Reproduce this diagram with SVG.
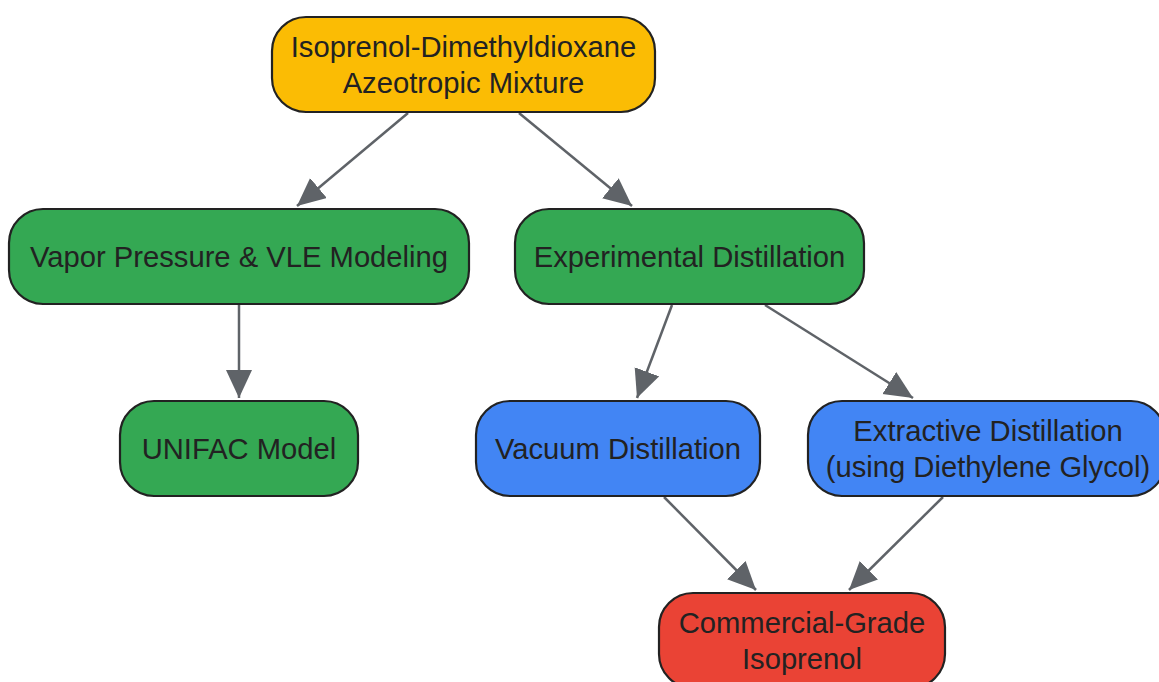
<svg xmlns="http://www.w3.org/2000/svg" width="1159" height="682" viewBox="0 0 1159 682">
<style>
.n rect{stroke:#222;stroke-width:2.2}
.n text{font-family:"Liberation Sans",Arial,sans-serif;font-size:29.2px;fill:#222;text-anchor:middle;dominant-baseline:central}
.e line{stroke:#5f6368;stroke-width:2.5;fill:none}
</style>
<defs>
<marker id="ah" markerUnits="userSpaceOnUse" markerWidth="30" markerHeight="28" refX="28" refY="13" orient="auto">
<path d="M0,0 L28,13 L0,26 z" fill="#5f6368"/>
</marker>
</defs>
<g id="edges" class="e">
<line x1="408" y1="113" x2="297" y2="206" marker-end="url(#ah)"/>
<line x1="519" y1="113" x2="632" y2="206" marker-end="url(#ah)"/>
<line x1="239" y1="305" x2="239" y2="398" marker-end="url(#ah)"/>
<line x1="672" y1="305" x2="637" y2="398" marker-end="url(#ah)"/>
<line x1="765" y1="305" x2="913" y2="398" marker-end="url(#ah)"/>
<line x1="664" y1="497" x2="756" y2="590" marker-end="url(#ah)"/>
<line x1="943" y1="497" x2="849" y2="590" marker-end="url(#ah)"/>
</g>
<g id="mixture" class="n"><rect x="272" y="17" width="383" height="95" rx="34" fill="#FBBC04"/><text x="463.5" y="47">Isoprenol-Dimethyldioxane</text><text x="463.5" y="83">Azeotropic Mixture</text></g>
<g id="vle" class="n"><rect x="9" y="209" width="460" height="95" rx="34" fill="#34A853"/><text x="239" y="257">Vapor Pressure &amp; VLE Modeling</text></g>
<g id="experimental" class="n"><rect x="515" y="209" width="349" height="95" rx="34" fill="#34A853"/><text x="689.5" y="257">Experimental Distillation</text></g>
<g id="unifac" class="n"><rect x="120" y="401" width="238" height="95" rx="34" fill="#34A853"/><text x="239" y="449">UNIFAC Model</text></g>
<g id="vacuum" class="n"><rect x="476" y="401" width="284" height="95" rx="34" fill="#4285F4"/><text x="618" y="449">Vacuum Distillation</text></g>
<g id="extractive" class="n"><rect x="808" y="401" width="357" height="95" rx="34" fill="#4285F4"/><text x="988" y="431">Extractive Distillation</text><text x="988" y="467">(using Diethylene Glycol)</text></g>
<g id="commercial" class="n"><rect x="659" y="593" width="286" height="95" rx="34" fill="#EA4335"/><text x="802" y="623">Commercial-Grade</text><text x="802" y="659">Isoprenol</text></g>
</svg>
